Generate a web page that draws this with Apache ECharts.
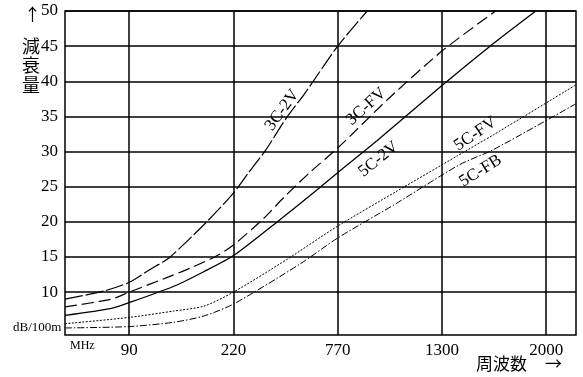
<!DOCTYPE html>
<html>
<head>
<meta charset="utf-8">
<script src="https://cdn.jsdelivr.net/npm/echarts@6/dist/echarts.min.js"></script>
<style>
  html, body { margin: 0; background: #fff; }
  #chart { width: 583px; height: 377px; }
</style>
</head>
<body>
<div id="chart"></div>
<script>
// frequency ticks (MHz) - the axis is not linear, one division per tick
const ticksMHz = [90, 220, 770, 1300, 2000];
const rangeMHz = [10, 2200];
const ticksDB = [10, 15, 20, 25, 30, 35, 40, 45, 50];

// attenuation curves, dB/100m
const mhz3C2V = [10, 60, 90, 120, 140, 185, 220, 300, 390, 500, 600, 770, 920];
const db3C2V  = [9.0, 10.2, 11.4, 13.5, 14.9, 19.8, 24.1, 27.0, 30.2, 34.8, 38.4, 45.0, 50.0];

const mhz3CFV = [10, 68, 90, 140, 170, 200, 220, 380, 490, 630, 770, 1035, 1300, 1660];
const db3CFV  = [7.9, 9.0, 10.0, 12.2, 13.6, 15.2, 16.7, 20.5, 23.6, 27.2, 30.5, 37.7, 44.3, 50.0];

const mhz5C2V = [10, 68, 90, 145, 183, 220, 455, 686, 770, 968, 1300, 1623, 1930];
const db5C2V  = [6.7, 7.7, 8.5, 10.8, 12.9, 15.2, 20.1, 25.1, 27.0, 31.5, 39.4, 45.0, 50.0];

const mhz5CFV = [10, 90, 145, 183, 220, 505, 770, 1067, 1404, 1647, 2200];
const db5CFV  = [5.5, 6.4, 7.3, 8.0, 10.0, 14.7, 19.4, 24.3, 29.4, 32.4, 39.5];

const mhz5CFB = [10, 90, 145, 183, 220, 571, 770, 1067, 1415, 1647, 2200];
const db5CFB  = [4.9, 5.1, 5.7, 6.6, 8.3, 14.0, 17.7, 22.6, 28.1, 30.3, 36.8];

// where each curve name sits: [MHz, dB, angle]
const labelAt = {
  '3C-2V': [477, 35.9, 54],
  '3C-FV': [915, 36.4, 42],
  '5C-2V': [978, 28.9, 39],
  '5C-FV': [1524, 32.5, 34],
  '5C-FB': [1559, 27.25, 32]
};

// MHz -> axis position, piecewise linear between the ticks
function toPos(f) {
  const t = ticksMHz;
  if (f <= t[0]) return 1 - (t[0] - f) / (t[1] - t[0]);
  for (let i = 0; i < t.length - 1; i++) {
    if (f <= t[i + 1]) return i + 1 + (f - t[i]) / (t[i + 1] - t[i]);
  }
  const n = t.length;
  return n + (f - t[n - 1]) / (t[n - 1] - t[n - 2]);
}

const serif = 'Liberation Serif';
const cjk = 'Noto Sans CJK JP';

function curve(name, xs, ys, dash, width) {
  const l = labelAt[name];
  return {
    name: name,
    type: 'line',
    showSymbol: false,
    smooth: 0.25,
    data: xs.map((f, i) => [toPos(f), ys[i]]),
    lineStyle: { color: '#000', width: width, type: dash },
    markPoint: {
      symbolSize: 0,
      silent: true,
      data: [{ coord: [toPos(l[0]), l[1]] }],
      label: {
        show: true,
        formatter: name,
        rotate: l[2],
        color: '#000',
        fontFamily: serif,
        fontSize: 17
      }
    }
  };
}

const chart = echarts.init(document.getElementById('chart'));
chart.setOption({
  animation: false,
  backgroundColor: '#fff',
  grid: {
    left: 65, right: 7, top: 11, bottom: 42,
    show: true, borderColor: '#000', borderWidth: 1.5
  },
  xAxis: {
    type: 'value',
    min: toPos(rangeMHz[0]),
    max: toPos(rangeMHz[1]),
    axisLine: { show: false },
    axisTick: { show: false, customValues: ticksMHz.map(toPos) },
    axisLabel: {
      customValues: ticksMHz.map(toPos),
      formatter: v => String(ticksMHz[Math.round(v) - 1]),
      color: '#000', fontFamily: serif, fontSize: 17, margin: 7
    },
    splitLine: { show: true, lineStyle: { color: '#000', width: 1.5 } }
  },
  yAxis: {
    type: 'value',
    min: 3.9,
    max: 50,
    axisLine: { show: false },
    axisTick: { show: false, customValues: ticksDB },
    axisLabel: {
      customValues: ticksDB,
      color: '#000', fontFamily: serif, fontSize: 17, margin: 7
    },
    splitLine: { show: true, lineStyle: { color: '#000', width: 1.5 } }
  },
  graphic: [
    { type: 'text', left: 24, top: 6, style: { text: '↑', font: '17px "' + cjk + '"', fill: '#000' } },
    { type: 'text', left: 22, top: 36, style: { text: '減\n衰\n量', font: '18px "' + cjk + '"', lineHeight: 19.5, fill: '#000' } },
    { type: 'text', left: 13, top: 321, style: { text: 'dB/100m', font: '13px "' + serif + '"', fill: '#000' } },
    { type: 'text', left: 70, top: 340, style: { text: 'MHz', font: '12px "' + serif + '"', fill: '#000' } },
    { type: 'text', left: 476, top: 355, style: { text: '周波数', font: '17px "' + cjk + '"', fill: '#000', letterSpacing: 3 } },
    { type: 'text', left: 545, top: 355, style: { text: '→', font: '17px "' + cjk + '"', fill: '#000' } }
  ],
  series: [
    curve('3C-2V', mhz3C2V, db3C2V, [18, 3], 1.2),
    curve('3C-FV', mhz3CFV, db3CFV, [12, 5], 1.2),
    curve('5C-2V', mhz5C2V, db5C2V, 'solid', 1.3),
    curve('5C-FV', mhz5CFV, db5CFV, [2, 1.5], 1),
    curve('5C-FB', mhz5CFB, db5CFB, [7, 2, 1.5, 2], 1)
  ]
});
</script>
</body>
</html>
